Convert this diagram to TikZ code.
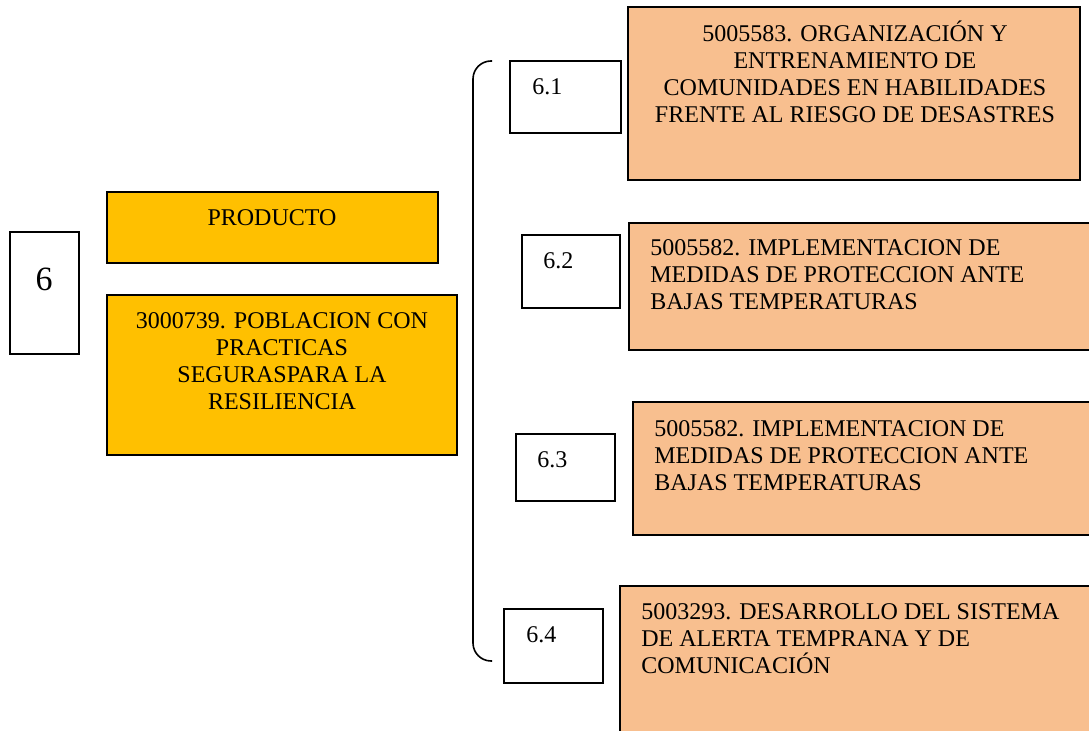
\documentclass[tikz,border=0pt]{standalone}
\usepackage{fontspec}
\setmainfont{Liberation Serif}
\usetikzlibrary{fit}
\definecolor{gold}{HTML}{FFC000}
\definecolor{peach}{HTML}{F8BF8F}
\tikzset{
  box/.style={draw=black, line width=0.8pt, inner sep=0pt},
  numbox/.style={box, fill=white},
  goldbox/.style={box, fill=gold},
  peachbox/.style={box, fill=peach},
  txt/.style={inner sep=0pt, font=\fontsize{12}{13.5}\selectfont},
  bracket/.style={draw=black, line width=0.8pt, rounded corners=9pt},
}
\begin{document}
\begin{tikzpicture}[x=0.5pt,y=-0.5pt]
\useasboundingbox (0,0) rectangle (1089,731);
% left side
\node[numbox, fit={(10,232) (79,354)}] (n6) {};
\node[goldbox, fit={(107,192) (438,263)}] (prod) {};
\node[goldbox, fit={(107,295) (457,455)}] (pob) {};
\node[txt, font=\fontsize{17}{20}\selectfont, anchor=base] (t6) at (44,291) {6};
\node[txt, anchor=base] (tprod) at (272,226) {PRODUCTO};
\node[txt, anchor=base, align=center] (tpob) at (282,410) {3000739. POBLACION CON\\PRACTICAS\\SEGURASPARA LA\\RESILIENCIA};
% bracket
\coordinate (btop) at (492,61);
\coordinate (bcornt) at (473,61);
\coordinate (bcornb) at (473,661);
\coordinate (bbot) at (492,661);
\draw[bracket] (btop) -- (bcornt) -- (bcornb) -- (bbot);
% right side boxes
\node[numbox, fit={(510,61) (621,133)}] (n61) {};
\node[peachbox, fit={(628,7) (1080,180)}] (a1) {};
\node[numbox, fit={(522,235) (620,308)}] (n62) {};
\node[peachbox, fit={(629,223) (1100,350)}] (a2) {};
\node[numbox, fit={(516,434) (615,501)}] (n63) {};
\node[peachbox, fit={(633,402) (1100,535)}] (a3) {};
\node[numbox, fit={(504,609) (603,683)}] (n64) {};
\node[peachbox, fit={(620,586) (1100,745)}] (a4) {};
% texts
\node[txt, anchor=base west] (t61) at (532,95) {6.1};
\node[txt, anchor=base west] (t62) at (543,269) {6.2};
\node[txt, anchor=base west] (t63) at (537,468) {6.3};
\node[txt, anchor=base west] (t64) at (526,643) {6.4};
\node[txt, anchor=base, align=center] (ta1) at (855,123) {5005583. ORGANIZACIÓN Y\\ENTRENAMIENTO DE\\COMUNIDADES EN HABILIDADES\\FRENTE AL RIESGO DE DESASTRES};
\node[txt, anchor=base west, align=left] (ta2) at (650,310) {5005582. IMPLEMENTACION DE\\MEDIDAS DE PROTECCION ANTE\\BAJAS TEMPERATURAS};
\node[txt, anchor=base west, align=left] (ta3) at (654,491) {5005582. IMPLEMENTACION DE\\MEDIDAS DE PROTECCION ANTE\\BAJAS TEMPERATURAS};
\node[txt, anchor=base west, align=left] (ta4) at (641,674) {5003293. DESARROLLO DEL SISTEMA\\DE ALERTA TEMPRANA Y DE\\COMUNICACIÓN};
\end{tikzpicture}
\end{document}
